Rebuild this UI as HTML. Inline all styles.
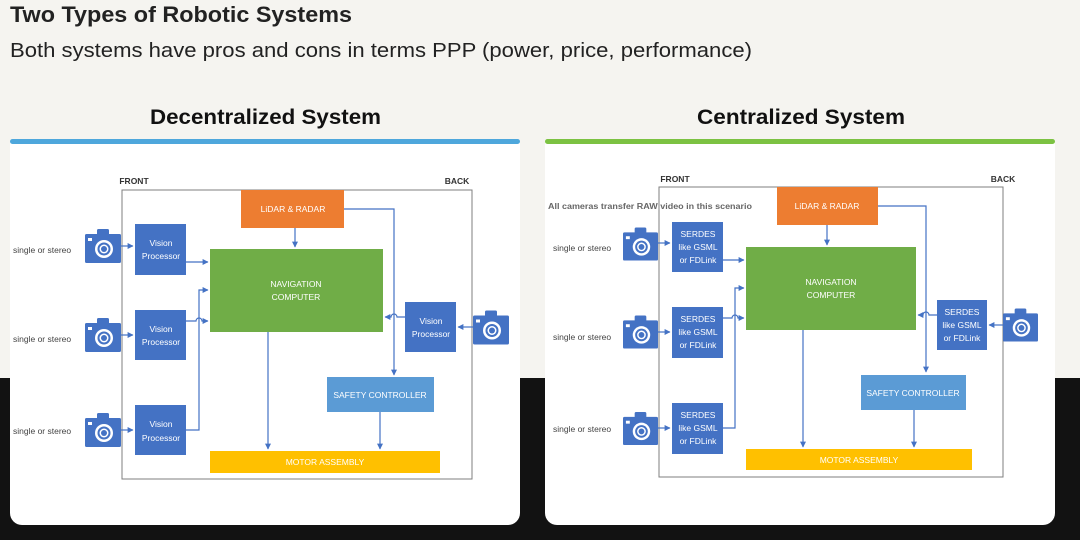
<!DOCTYPE html>
<html><head><meta charset="utf-8"><style>
html,body{margin:0;padding:0;width:1080px;height:540px;overflow:hidden;background:#f5f4f0}
svg{display:block}
text{font-family:"Liberation Sans",sans-serif}
</style></head><body>
<svg width="1080" height="540" viewBox="0 0 1080 540" xmlns="http://www.w3.org/2000/svg">
<defs>
<marker id="a" viewBox="0 0 10 10" refX="9" refY="5" markerWidth="5" markerHeight="5" orient="auto"><path d="M0,0L10,5L0,10z" fill="#4472c4"/></marker>
<symbol id="cam" viewBox="0 0 36 34">
<rect x="0" y="5" width="36" height="29" rx="1.5" fill="#4472c4"/>
<rect x="12" y="0" width="12" height="8" rx="1.5" fill="#4472c4"/>
<circle cx="19" cy="20" r="9" fill="#fff"/><circle cx="19" cy="20" r="6.5" fill="#4472c4"/><circle cx="19" cy="20" r="4.5" fill="#fff"/><circle cx="19" cy="20" r="3" fill="#4472c4"/>
<rect x="3" y="9" width="4" height="3" fill="#fff"/>
</symbol>
</defs>
<rect x="0" y="378" width="1080" height="162" fill="#121212"/>
<text x="10" y="22" font-size="22" font-weight="bold" fill="#222" textLength="342" lengthAdjust="spacingAndGlyphs">Two Types of Robotic Systems</text>
<text x="10" y="57" font-size="20" fill="#222" textLength="742" lengthAdjust="spacingAndGlyphs">Both systems have pros and cons in terms PPP (power, price, performance)</text>
<text x="150" y="124" font-size="21" font-weight="bold" fill="#111" textLength="231" lengthAdjust="spacingAndGlyphs">Decentralized System</text>
<text x="697" y="124" font-size="21" font-weight="bold" fill="#111" textLength="208" lengthAdjust="spacingAndGlyphs">Centralized System</text>
<path d="M10,142H520V513a12,12 0 0 1 -12,12H22a12,12 0 0 1 -12,-12z" fill="#fff"/>
<path d="M545,142H1055V513a12,12 0 0 1 -12,12H557a12,12 0 0 1 -12,-12z" fill="#fff"/>
<rect x="10" y="139" width="510" height="5" rx="2.5" fill="#4ea7dc"/>
<rect x="545" y="139" width="510" height="5" rx="2.5" fill="#7cc242"/>

<g font-size="8.5" fill="#fff" text-anchor="middle">
<!-- LEFT -->
<rect x="122" y="190" width="350" height="289" fill="none" stroke="#7f7f7f" stroke-width="1"/>
<text x="134" y="184" font-size="8.5" font-weight="bold" fill="#333">FRONT</text>
<text x="457" y="184" font-size="8.5" font-weight="bold" fill="#333">BACK</text>
<g fill="none" stroke="#4472c4" stroke-width="1.2">
<path d="M344,209H394V375" marker-end="url(#a)"/>
<path d="M295,228V247" marker-end="url(#a)"/>
<path d="M186,262H208" marker-end="url(#a)"/>
<path d="M186,321H196a3,3 0 0 1 6,0H208" marker-end="url(#a)"/>
<path d="M186,430H199V290H208" marker-end="url(#a)"/>
<path d="M405,317H397a3,3 0 0 0 -6,0H385" marker-end="url(#a)"/>
<path d="M473,327H458" marker-end="url(#a)"/>
<path d="M268,332V449" marker-end="url(#a)"/>
<path d="M380,412V449" marker-end="url(#a)"/>
<path d="M121,246H133" marker-end="url(#a)"/>
<path d="M121,335H133" marker-end="url(#a)"/>
<path d="M121,430H133" marker-end="url(#a)"/>
</g>
<rect x="241" y="190" width="103" height="38" fill="#ed7d31"/><text x="293" y="212">LiDAR &amp; RADAR</text>
<rect x="210" y="249" width="173" height="83" fill="#70ad47"/><text x="296" y="287">NAVIGATION</text><text x="296" y="300">COMPUTER</text>
<rect x="135" y="224" width="51" height="51" fill="#4472c4"/><text x="161" y="246">Vision</text><text x="161" y="259">Processor</text>
<rect x="135" y="310" width="51" height="50" fill="#4472c4"/><text x="161" y="332">Vision</text><text x="161" y="345">Processor</text>
<rect x="135" y="405" width="51" height="50" fill="#4472c4"/><text x="161" y="427">Vision</text><text x="161" y="441">Processor</text>
<rect x="405" y="302" width="51" height="50" fill="#4472c4"/><text x="431" y="324">Vision</text><text x="431" y="337">Processor</text>
<rect x="327" y="377" width="107" height="35" fill="#5b9bd5"/><text x="380" y="398">SAFETY CONTROLLER</text>
<rect x="210" y="451" width="230" height="22" fill="#ffc000"/><text x="325" y="465">MOTOR ASSEMBLY</text>
<use href="#cam" x="85" y="229" width="36" height="34"/>
<use href="#cam" x="85" y="318" width="36" height="34"/>
<use href="#cam" x="85" y="413" width="36" height="34"/>
<use href="#cam" x="473" y="310" width="36" height="35"/>
<g fill="#444" text-anchor="start"><text x="13" y="253">single or stereo</text><text x="13" y="342">single or stereo</text><text x="13" y="434">single or stereo</text></g>

<!-- RIGHT -->
<rect x="659" y="187" width="344" height="290" fill="none" stroke="#7f7f7f" stroke-width="1"/>
<text x="675" y="182" font-size="8.5" font-weight="bold" fill="#333">FRONT</text>
<text x="1003" y="182" font-size="8.5" font-weight="bold" fill="#333">BACK</text>
<text x="548" y="209" font-size="8" font-weight="bold" fill="#666" text-anchor="start" textLength="204" lengthAdjust="spacingAndGlyphs">All cameras transfer RAW video in this scenario</text>
<g fill="none" stroke="#4472c4" stroke-width="1.2">
<path d="M878,206H926V372" marker-end="url(#a)"/>
<path d="M827,225V245" marker-end="url(#a)"/>
<path d="M723,260H744" marker-end="url(#a)"/>
<path d="M723,318H732a3,3 0 0 1 6,0H744" marker-end="url(#a)"/>
<path d="M723,428H735V288H744" marker-end="url(#a)"/>
<path d="M937,315H929a3,3 0 0 0 -6,0H918" marker-end="url(#a)"/>
<path d="M1003,325H989" marker-end="url(#a)"/>
<path d="M803,330V447" marker-end="url(#a)"/>
<path d="M914,410V447" marker-end="url(#a)"/>
<path d="M658,243H670" marker-end="url(#a)"/>
<path d="M658,332H670" marker-end="url(#a)"/>
<path d="M658,428H670" marker-end="url(#a)"/>
</g>
<rect x="777" y="187" width="101" height="38" fill="#ed7d31"/><text x="827" y="209">LiDAR &amp; RADAR</text>
<rect x="746" y="247" width="170" height="83" fill="#70ad47"/><text x="831" y="285">NAVIGATION</text><text x="831" y="298">COMPUTER</text>
<rect x="672" y="222" width="51" height="50" fill="#4472c4"/><text x="698" y="237">SERDES</text><text x="698" y="250">like GSML</text><text x="698" y="263">or FDLink</text>
<rect x="672" y="307" width="51" height="51" fill="#4472c4"/><text x="698" y="322">SERDES</text><text x="698" y="335">like GSML</text><text x="698" y="348">or FDLink</text>
<rect x="672" y="403" width="51" height="51" fill="#4472c4"/><text x="698" y="418">SERDES</text><text x="698" y="431">like GSML</text><text x="698" y="444">or FDLink</text>
<rect x="937" y="300" width="50" height="50" fill="#4472c4"/><text x="962" y="315">SERDES</text><text x="962" y="328">like GSML</text><text x="962" y="341">or FDLink</text>
<rect x="861" y="375" width="105" height="35" fill="#5b9bd5"/><text x="913" y="396">SAFETY CONTROLLER</text>
<rect x="746" y="449" width="226" height="21" fill="#ffc000"/><text x="859" y="463">MOTOR ASSEMBLY</text>
<use href="#cam" x="623" y="227" width="35" height="34"/>
<use href="#cam" x="623" y="315" width="35" height="34"/>
<use href="#cam" x="623" y="411" width="35" height="35"/>
<use href="#cam" x="1003" y="308" width="35" height="34"/>
<g fill="#444" text-anchor="start"><text x="553" y="251">single or stereo</text><text x="553" y="340">single or stereo</text><text x="553" y="432">single or stereo</text></g>
</g>
</svg>
</body></html>
